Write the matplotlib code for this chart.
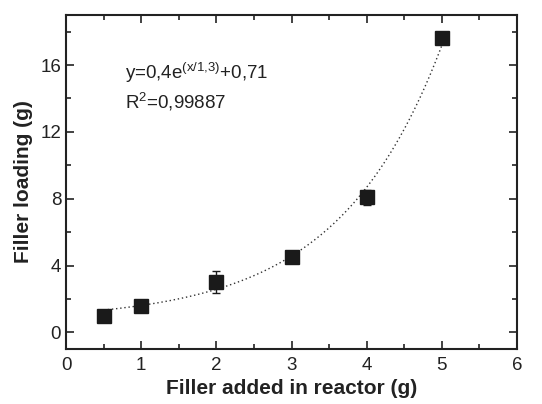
import numpy as np
import matplotlib
matplotlib.use("Agg")
import matplotlib.pyplot as plt
from matplotlib.ticker import MultipleLocator

plt.rcParams['font.family'] = ['Liberation Sans', 'DejaVu Sans']
plt.rcParams['mathtext.default'] = 'regular'

x_vals = [0.5, 1, 2, 3, 4, 5]
y_vals = [1.0, 1.6, 3.0, 4.5, 8.1, 17.6]
y_err = [0.15, 0.2, 0.65, 0.15, 0.45, 0.15]

fit_A = 0.44
fit_t = 1.38
fit_y0 = 0.7

fig = plt.figure(figsize=(5.42, 4.04), dpi=100)
ax = fig.add_axes([0.1218, 0.1361, 0.8321, 0.8268])

xf = np.linspace(0.5, 5, 200)
ax.plot(xf, fit_A * np.exp(xf / fit_t) + fit_y0, linestyle=(0, (1, 2)), color='#333333', lw=1.0, zorder=1)
ax.errorbar(x_vals, y_vals, yerr=y_err, fmt='s', color='#1a1a1a', ms=10.5, ecolor='#1a1a1a',
            elinewidth=1.0, capsize=3, capthick=1.0, zorder=3)

ax.set_xlim(0, 6)
ax.set_ylim(-1, 19)
ax.xaxis.set_major_locator(MultipleLocator(1))
ax.xaxis.set_minor_locator(MultipleLocator(0.5))
ax.yaxis.set_major_locator(MultipleLocator(4))
ax.yaxis.set_minor_locator(MultipleLocator(2))
ax.tick_params(which='both', direction='in', top=True, right=True, width=1.2, labelsize=13.5, colors='#222222')
ax.tick_params(which='major', length=6)
ax.tick_params(which='minor', length=3.5)
ax.tick_params(axis='x', pad=6)
for s in ax.spines.values():
    s.set_linewidth(1.5)
    s.set_color('#222222')

ax.set_xlabel('Filler added in reactor (g)', fontsize=15, fontweight='bold', labelpad=3, color='#222222')
ax.set_ylabel('Filler loading (g)', fontsize=15, fontweight='bold', labelpad=5, color='#222222')

ax.text(0.78, 15.55, r'y=0,4e$^{(x/1{,}3)}$+0,71', fontsize=13.5, color='#222222', va='center')
ax.text(0.78, 13.8, r'R$^2$=0,99887', fontsize=13.5, color='#222222', va='center')

fig.savefig('out.png', dpi=100)
